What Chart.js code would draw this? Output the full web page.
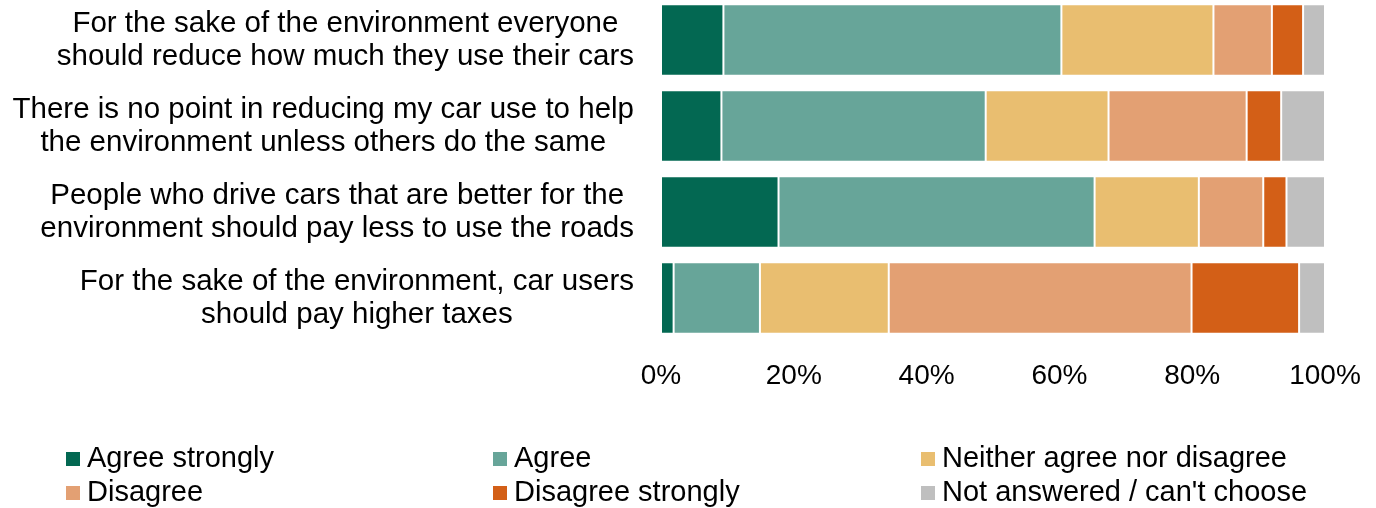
<!DOCTYPE html>
<html>
<head>
<meta charset="utf-8">
<script src="https://cdn.jsdelivr.net/npm/chart.js@4/dist/chart.umd.min.js"></script>
<style>
  html, body { margin: 0; padding: 0; background: #fff; overflow: hidden; }
  #wrap { position: relative; width: 1376px; height: 508px; overflow: hidden; }
  #chart { position: absolute; left: 0; top: -3px; }
  #legend {
    position: absolute; left: 66px; top: 440px;
    display: grid; grid-template-columns: 427px 428px auto;
    font-family: "Liberation Sans", Arial, sans-serif; font-size: 29px; color: #000;
  }
  #legend .item { height: 34px; line-height: 34px; white-space: nowrap; }
  #legend .box { display: inline-block; width: 14px; height: 14px; margin-right: 7px; vertical-align: 1px; }
</style>
</head>
<body>
<div id="wrap">
  <canvas id="chart" width="1376" height="511"></canvas>
  <div id="legend"></div>
</div>
<script>
// Survey statements (each split into its two display lines)
const statements = [
  ["For the sake of the environment everyone", "should reduce how much they use their cars"],
  ["There is no point in reducing my car use to help", "the environment unless others do the same"],
  ["People who drive cars that are better for the", "environment should pay less to use the roads"],
  ["For the sake of the environment, car users", "should pay higher taxes"]
];

// Response shares (%) per statement
const agreeStrongly    = [9.4, 9.1, 17.7, 1.9];
const agree            = [50.9, 39.8, 47.6, 13.0];
const neither          = [22.9, 18.5, 15.7, 19.4];
const disagree         = [8.8, 20.8, 9.7, 45.6];
const disagreeStrongly = [4.7, 5.2, 3.5, 16.2];
const notAnswered      = [3.3, 6.6, 5.8, 3.9];

const responseLabels = [
  "Agree strongly", "Agree", "Neither agree nor disagree",
  "Disagree", "Disagree strongly", "Not answered / can't choose"
];
const responseColors = ["#036852", "#67A599", "#E9BE70", "#E3A073", "#D35F17", "#BFBFBF"];

const xTicks = [0, 20, 40, 60, 80, 100];

const FONT = '"Liberation Sans", Arial, sans-serif';

const series = [agreeStrongly, agree, neither, disagree, disagreeStrongly, notAnswered];

// Category labels: each block is right-aligned, its lines centred on one another
const statementLabels = {
  id: 'statementLabels',
  afterDraw(chart) {
    const ctx = chart.ctx;
    const yScale = chart.scales.y;
    const rightEdge = chart.chartArea.left - 27;
    const lineGap = 33;
    ctx.save();
    ctx.font = '29.5px ' + FONT;
    ctx.fillStyle = '#000';
    ctx.textAlign = 'center';
    ctx.textBaseline = 'middle';
    statements.forEach((lines, i) => {
      const cy = yScale.getPixelForValue(i);
      const maxW = Math.max(...lines.map(l => ctx.measureText(l).width));
      const cx = rightEdge - maxW / 2;
      const y0 = cy - (lines.length - 1) * lineGap / 2;
      lines.forEach((l, k) => ctx.fillText(l, cx, y0 + k * lineGap));
    });
    ctx.restore();
  }
};

const chart = new Chart(document.getElementById('chart'), {
  type: 'bar',
  data: {
    labels: statements,
    datasets: series.map((vals, i) => ({
      label: responseLabels[i],
      data: vals,
      backgroundColor: responseColors[i],
      borderColor: 'rgba(255,255,255,0.45)',
      borderWidth: 1,
      borderSkipped: false,
      barPercentage: 0.83,
      categoryPercentage: 1
    }))
  },
  options: {
    indexAxis: 'y',
    responsive: false,
    animation: false,
    layout: { padding: { left: 0, right: 51, top: 0, bottom: 107 } },
    plugins: { legend: { display: false }, tooltip: { enabled: false } },
    scales: {
      x: {
        stacked: true,
        min: 0, max: 100,
        afterBuildTicks(s) { s.ticks = xTicks.map(v => ({ value: v })); },
        grid: { display: false },
        border: { display: false },
        ticks: {
          font: { family: FONT, size: 28 },
          color: '#000',
          padding: 10,
          maxRotation: 0,
          callback: v => v + '%'
        },
        afterFit(s) { s.height = 60; }
      },
      y: {
        stacked: true,
        grid: { display: false },
        border: { display: false },
        ticks: { display: false },
        afterFit(s) { s.width = 661; }
      }
    }
  },
  plugins: [statementLabels]
});

// Legend grid built from the datasets
const legendEl = document.getElementById('legend');
chart.data.datasets.forEach(ds => {
  const item = document.createElement('div');
  item.className = 'item';
  const box = document.createElement('span');
  box.className = 'box';
  box.style.background = ds.backgroundColor;
  item.appendChild(box);
  item.appendChild(document.createTextNode(ds.label));
  legendEl.appendChild(item);
});
</script>
</body>
</html>
